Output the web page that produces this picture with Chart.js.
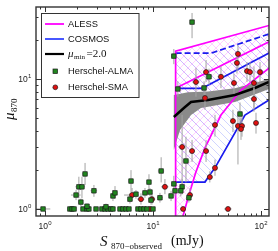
<!DOCTYPE html>
<html>
<head>
<meta charset="utf-8">
<script src="https://cdn.jsdelivr.net/npm/chart.js@4.4.0/dist/chart.umd.min.js"></script>
<style>
  html, body { margin: 0; padding: 0; background: #fff; }
</style>
</head>
<body>
<canvas id="chart" width="278" height="251"></canvas>
<script>
// === data ===
const xRange = [0.826, 118.6];
const yRange = [0.883, 35.8];
const xMajor = [1, 10, 100];
const xMinor = [0.9, 2, 3, 4, 5, 6, 7, 8, 9, 20, 30, 40, 50, 60, 70, 80, 90];
const yMajor = [1, 10];
const yMinor = [2, 3, 4, 5, 6, 7, 8, 9, 20, 30];

// ALESS (magenta) curves
const alessOuterS = [16.2, 16.2, 118.6];
const alessOuterMu = [0.8, 16.4, 25.8];
const alessMidS = [16.2, 118.6];
const alessMidMu = [8.48, 19.3];
const alessLowS = [18.56, 18.97, 21.1, 25.0, 30.3, 42.6, 65.3, 118.6];
const alessLowMu = [0.823, 0.883, 1.215, 1.93, 2.95, 5.28, 8.23, 12.1];

// COSMOS (blue) curves
const cosmosTopS = [16.2, 34.4, 118.6];
const cosmosTopMu = [15.8, 15.8, 22.2];
const cosmosMidS = [16.2, 27.8, 31, 118.6];
const cosmosMidMu = [8.48, 8.48, 8.8, 15.85];
const cosmosLowS = [16.2, 30.3, 33.6, 37.5, 71.1, 118.6];
const cosmosLowMu = [1.61, 1.61, 1.83, 2.07, 5.28, 6.9];

// mu_min = 2.0 curve and its band
const minS = [15.6, 19.8, 22.5, 32.3, 57.4, 87.9, 118.6];
const minMu = [5.1, 6.09, 6.66, 6.89, 7.53, 8.53, 9.48];
const bandUpS = [15.6, 21.1, 32.3, 57.4, 118.6];
const bandUpMu = [7.53, 7.9, 8.0, 8.5, 10.0];
const bandLoS = [118.6, 57.4, 27.8, 22.5, 17.8, 15.6];
const bandLoMu = [8.38, 6.66, 5.98, 5.28, 4.05, 2.84];

// Herschel-ALMA
const almaS = [0.96, 1.70, 1.78, 1.86, 2.25, 2.45, 2.55, 2.97, 3.37, 3.59, 3.83, 4.08, 4.26, 4.95, 5.27, 5.62, 5.99, 7.26, 7.74, 8.25, 8.79, 10.0,
  1.94, 2.06, 2.2, 2.35, 2.15, 2.45, 2.84, 3.67, 4.26, 4.45, 6.26, 6.12, 6.96, 11.9, 9.18, 9.38, 8.43, 9.58, 11.6, 14.7, 15.6, 18.6, 18.1, 16.0, 21.5, 20.2,
  23.0, 15.6, 17.0, 29.7, 33.0, 63.9];
const almaMu = [1, 1, 1, 1, 1, 1, 1, 1, 1, 1, 1, 1, 1, 1, 1, 1, 1, 1, 1, 1, 1, 1,
  1.28, 1.48, 1.48, 1.86, 1.13, 1.05, 1.38, 1.04, 1.26, 1.33, 1.64, 1.19, 1.3, 1.96, 1.61, 1.35, 1.33, 1.17, 1.22, 1.26, 1.56, 1.48, 1.38, 1.38, 1.22, 2.34,
  27.4, 15.0, 8.38, 8.53, 10.4, 5.38];
const almaSErr = [0.16, 0.1, 0.1, 0.1, 0.12, 0.12, 0.12, 0.15, 0.2, 0.2, 0.2, 0.2, 0.2, 0.25, 0.25, 0.3, 0.3, 0.4, 0.4, 0.4, 0.4, 0.5,
  0.2, 0.15, 0.15, 0.15, 0.12, 0.12, 0.2, 0.2, 0.25, 0.25, 0.35, 0.3, 0.35, 0.8, 0.5, 0.5, 0.5, 0.5, 0.7, 0.8, 0.9, 1.0, 1.0, 0.9, 1.2, 1.5,
  1.2, 0.9, 1.0, 1.8, 2.0, 4.0];
const almaMuLo = [1, 1, 1, 1, 1, 1, 1, 1, 1, 1, 1, 1, 1, 1, 1, 1, 1, 1, 1, 1, 1, 1,
  1.17, 1.21, 1.21, 1.53, 1.05, 1.0, 1.24, 1.0, 1.15, 1.2, 1.35, 1.1, 1.2, 1.6, 1.4, 1.25, 1.22, 1.08, 1.12, 1.15, 1.35, 1.3, 1.25, 1.25, 1.12, 1.6,
  20.6, 13.0, 7.3, 7.5, 9.0, 4.3];
const almaMuHi = [1, 1, 1, 1, 1, 1, 1, 1, 1, 1, 1, 1, 1, 1, 1, 1, 1, 1, 1, 1, 1, 1,
  1.4, 1.77, 1.77, 2.26, 1.2, 1.1, 1.53, 1.1, 1.4, 1.5, 1.99, 1.3, 1.4, 2.5, 1.85, 1.45, 1.45, 1.27, 1.33, 1.38, 1.8, 1.7, 1.52, 1.52, 1.33, 3.6,
  32.2, 17.0, 9.6, 9.6, 12.0, 6.6];

// Herschel-SMA
const smaS = [61.2, 59.9, 31.0, 25.0, 42.6, 56.2, 74.2, 79.1, 97.9, 86.1, 30.3, 86.1, 37.5, 55.0, 61.2, 66.7, 65.3, 89.9,
  18.6, 23.0, 31.0, 37.5, 33.6, 19.0, 49.5, 22.0, 6.4, 7.74, 9.79, 12.9, 9.38];
const smaMu = [15.6, 13.3, 11.3, 9.48, 10.4, 9.31, 11.5, 11.3, 11.3, 9.31, 7.14, 7.01, 4.43, 4.75, 4.35, 4.35, 4.12, 4.59,
  3.0, 2.79, 2.79, 2.07, 1.76, 1.0, 1.0, 1.28, 1.28, 1.19, 1.19, 1.48, 1.0];
const smaSErr = [3, 3, 2, 2, 3, 3, 4, 4, 5, 4, 2, 4, 2, 3, 3, 3, 3, 4,
  1.5, 1.5, 2, 2, 2, 1.2, 4, 1.5, 1.0, 0.6, 0.7, 1.0, 0.6];
const smaMuLo = [11.8, 11.0, 9.5, 7.3, 8.5, 7.8, 9.5, 9.5, 9.5, 6.0, 5.8, 5.6, 3.6, 3.9, 2.2, 3.6, 3.4, 3.8,
  1.3, 2.3, 2.3, 1.8, 1.6, 1.0, 1.0, 1.15, 1.15, 1.08, 1.08, 1.3, 1.0];
const smaMuHi = [18.3, 15.6, 14.0, 12.1, 12.5, 11.0, 13.5, 13.5, 13.5, 12.5, 8.2, 8.5, 5.3, 5.8, 5.3, 5.3, 5.0, 5.5,
  5.3, 3.4, 3.4, 2.4, 1.95, 1.0, 1.0, 1.45, 1.45, 1.32, 1.32, 1.7, 1.0];

const MAG = '#ff00ff';
const BLUE = '#1a1aee';
const pts = (xs, ys) => xs.map((x, i) => ({ x, y: ys[i] }));

function hatch(color, cross) {
  const s = 8;
  const c = document.createElement('canvas');
  c.width = s; c.height = s;
  const g = c.getContext('2d');
  g.strokeStyle = color;
  g.lineWidth = 0.7;
  g.beginPath();
  g.moveTo(0, 0); g.lineTo(s, s);
  g.moveTo(-1, s - 1); g.lineTo(1, s + 1);
  g.moveTo(s - 1, -1); g.lineTo(s + 1, 1);
  if (cross) {
    g.moveTo(0, s); g.lineTo(s, 0);
    g.moveTo(-1, 1); g.lineTo(1, -1);
    g.moveTo(s - 1, s + 1); g.lineTo(s + 1, s - 1);
  }
  g.stroke();
  return g.createPattern(c, 'repeat');
}

// closed outlines of the two hatched regions, built from the curves above
const alessPoly = pts(alessOuterS, alessOuterMu).concat(pts(alessLowS, alessLowMu).reverse());
const cosmosPoly = pts(cosmosTopS, cosmosTopMu).concat(pts(cosmosLowS, cosmosLowMu).reverse());
const bandPoly = pts(bandUpS, bandUpMu).concat(pts(bandLoS, bandLoMu));

const lineDs = (data, color, width, dash) => ({
  data, showLine: true, borderColor: color, borderWidth: width, borderDash: dash || [],
  pointRadius: 0, fill: false
});
const shapeDs = (data, bg) => ({
  data, showLine: true, borderColor: 'rgba(0,0,0,0)', borderWidth: 0,
  pointRadius: 0, fill: 'shape', backgroundColor: bg
});

const datasets = [
  { data: pts(almaS, almaMu), pointStyle: 'rect', pointRadius: 3.2, backgroundColor: '#21861f', borderColor: '#1a1a1a', borderWidth: 0.7 },
  { data: pts(smaS, smaMu), pointStyle: 'circle', pointRadius: 2.5, backgroundColor: '#e01010', borderColor: '#1a1a1a', borderWidth: 0.7 },
  lineDs(pts(minS, minMu), '#000', 2.5),
  lineDs(pts(alessOuterS, alessOuterMu), MAG, 1.7),
  lineDs(pts(alessMidS, alessMidMu), MAG, 1.7),
  lineDs(pts(alessLowS, alessLowMu), MAG, 1.7),
  lineDs(pts(cosmosTopS, cosmosTopMu), BLUE, 1.7, [6, 3]),
  lineDs(pts(cosmosMidS, cosmosMidMu), BLUE, 1.7),
  lineDs(pts(cosmosLowS, cosmosLowMu), BLUE, 1.7),
  shapeDs(bandPoly, '#8a8a8a'),
  shapeDs(cosmosPoly, hatch('rgba(120,135,255,0.5)', false)),
  shapeDs(alessPoly, hatch('rgba(255,120,255,0.5)', true))
];

function errBars(ctx, X, Y, s, mu, se, lo, hi) {
  for (let i = 0; i < s.length; i++) {
    const px = X.getPixelForValue(s[i]);
    const py = Y.getPixelForValue(mu[i]);
    ctx.beginPath();
    ctx.moveTo(X.getPixelForValue(s[i] - se[i]), py);
    ctx.lineTo(X.getPixelForValue(s[i] + se[i]), py);
    if (hi[i] > lo[i]) {
      ctx.moveTo(px, Y.getPixelForValue(lo[i]));
      ctx.lineTo(px, Y.getPixelForValue(hi[i]));
    }
    ctx.stroke();
  }
}

function pow10(ctx, x, y, exp, align) {
  ctx.font = '8.5px "Liberation Sans", Arial, sans-serif';
  const w1 = ctx.measureText('10').width;
  ctx.font = '6px "Liberation Sans", Arial, sans-serif';
  const w2 = ctx.measureText(exp).width;
  const start = align === 'right' ? x - w1 - w2 : x - (w1 + w2) / 2;
  ctx.textAlign = 'left';
  ctx.textBaseline = 'alphabetic';
  ctx.font = '8.5px "Liberation Sans", Arial, sans-serif';
  ctx.fillText('10', start, y);
  ctx.font = '6px "Liberation Sans", Arial, sans-serif';
  ctx.fillText(exp, start + w1 + 0.3, y - 4);
}

const deco = {
  id: 'deco',
  beforeDatasetDraw(chart, args) {
    if (args.index !== 1) return;
    const { ctx, chartArea: a } = chart;
    const X = chart.scales.x, Y = chart.scales.y;
    ctx.save();
    ctx.beginPath();
    ctx.rect(a.left, a.top, a.right - a.left, a.bottom - a.top);
    ctx.clip();
    ctx.strokeStyle = '#a3a3a3';
    ctx.lineWidth = 1;
    errBars(ctx, X, Y, almaS, almaMu, almaSErr, almaMuLo, almaMuHi);
    errBars(ctx, X, Y, smaS, smaMu, smaSErr, smaMuLo, smaMuHi);
    ctx.restore();
  },
  afterDraw(chart) {
    const { ctx, chartArea: a } = chart;
    const X = chart.scales.x, Y = chart.scales.y;
    ctx.save();
    ctx.strokeStyle = '#333';
    ctx.fillStyle = '#222';
    ctx.lineWidth = 1;
    // ticks, pointing inward on all four sides
    const tick = (vals, len) => {
      vals.forEach(v => {
        const px = Math.round(X.getPixelForValue(v)) + 0.5;
        if (px < a.left || px > a.right) return;
        ctx.beginPath();
        ctx.moveTo(px, a.bottom); ctx.lineTo(px, a.bottom - len);
        ctx.moveTo(px, a.top); ctx.lineTo(px, a.top + len);
        ctx.stroke();
      });
    };
    const ytick = (vals, len) => {
      vals.forEach(v => {
        const py = Math.round(Y.getPixelForValue(v)) + 0.5;
        if (py < a.top || py > a.bottom) return;
        ctx.beginPath();
        ctx.moveTo(a.left, py); ctx.lineTo(a.left + len, py);
        ctx.moveTo(a.right, py); ctx.lineTo(a.right - len, py);
        ctx.stroke();
      });
    };
    tick(xMajor, 5); tick(xMinor, 2.5);
    ytick(yMajor, 5); ytick(yMinor, 2.5);
    // frame
    ctx.lineWidth = 1.4;
    ctx.strokeRect(a.left, a.top, a.right - a.left, a.bottom - a.top);

    // tick labels
    xMajor.forEach((v, i) => pow10(ctx, X.getPixelForValue(v), a.bottom + 13, String(i), 'center'));
    yMajor.forEach((v, i) => pow10(ctx, a.left - 5, Y.getPixelForValue(v) + 3, String(i), 'right'));

    // x title
    ctx.fillStyle = '#111';
    ctx.textBaseline = 'alphabetic';
    ctx.textAlign = 'left';
    ctx.font = 'italic 15px "Liberation Serif", serif';
    ctx.fillText('S', 100, 246);
    ctx.font = '9px "Liberation Serif", serif';
    ctx.fillText('870\u2212observed', 111, 249);
    ctx.font = '14px "Liberation Serif", serif';
    ctx.fillText('(mJy)', 171, 245);

    // y title
    ctx.save();
    ctx.translate(14, 120);
    ctx.rotate(-Math.PI / 2);
    ctx.font = 'italic 15px "Liberation Serif", serif';
    ctx.fillText('\u03bc', 0, 0);
    ctx.font = '9px "Liberation Serif", serif';
    ctx.fillText('870', 8, 3);
    ctx.restore();

    // legend
    ctx.fillStyle = '#fff';
    ctx.fillRect(41.5, 13.5, 97.5, 84);
    ctx.strokeStyle = '#333';
    ctx.lineWidth = 1;
    ctx.strokeRect(41.5, 13.5, 97.5, 84);
    const items = [
      { y: 24, color: MAG, w: 1.8 },
      { y: 39, color: '#3344ff', w: 1.8 },
      { y: 54, color: '#000', w: 2.2 }
    ];
    items.forEach(it => {
      ctx.strokeStyle = it.color; ctx.lineWidth = it.w;
      ctx.beginPath(); ctx.moveTo(45, it.y); ctx.lineTo(64, it.y); ctx.stroke();
    });
    ctx.fillStyle = '#111';
    ctx.textBaseline = 'middle';
    ctx.font = '9.3px "Liberation Sans", Arial, sans-serif';
    ctx.fillText('ALESS', 68, 24.5);
    ctx.fillText('COSMOS', 68, 39.5);
    ctx.fillText('Herschel-ALMA', 68, 71.5);
    ctx.fillText('Herschel-SMA', 68, 87.5);
    ctx.font = 'italic 11px "Liberation Serif", serif';
    ctx.fillText('\u03bc', 68, 54);
    ctx.font = '7px "Liberation Serif", serif';
    ctx.fillText('min', 74, 57);
    ctx.font = '11px "Liberation Serif", serif';
    ctx.fillText('=2.0', 86.5, 54);
    // legend markers
    ctx.lineWidth = 0.7;
    ctx.strokeStyle = '#1a1a1a';
    ctx.fillStyle = '#21861f';
    ctx.fillRect(53, 69, 4.5, 4.5); ctx.strokeRect(53, 69, 4.5, 4.5);
    ctx.fillStyle = '#e01010';
    ctx.beginPath(); ctx.arc(55.3, 87.3, 2.4, 0, Math.PI * 2); ctx.fill(); ctx.stroke();
    ctx.restore();
  }
};

new Chart(document.getElementById('chart'), {
  type: 'scatter',
  data: { datasets },
  options: {
    responsive: false,
    devicePixelRatio: 1,
    animation: false,
    layout: { padding: { left: 36, right: 9, top: 7, bottom: 35 } },
    plugins: { legend: { display: false }, tooltip: { enabled: false } },
    scales: {
      x: { type: 'logarithmic', min: xRange[0], max: xRange[1], display: false },
      y: { type: 'logarithmic', min: yRange[0], max: yRange[1], display: false }
    }
  },
  plugins: [deco]
});
</script>
</body>
</html>
